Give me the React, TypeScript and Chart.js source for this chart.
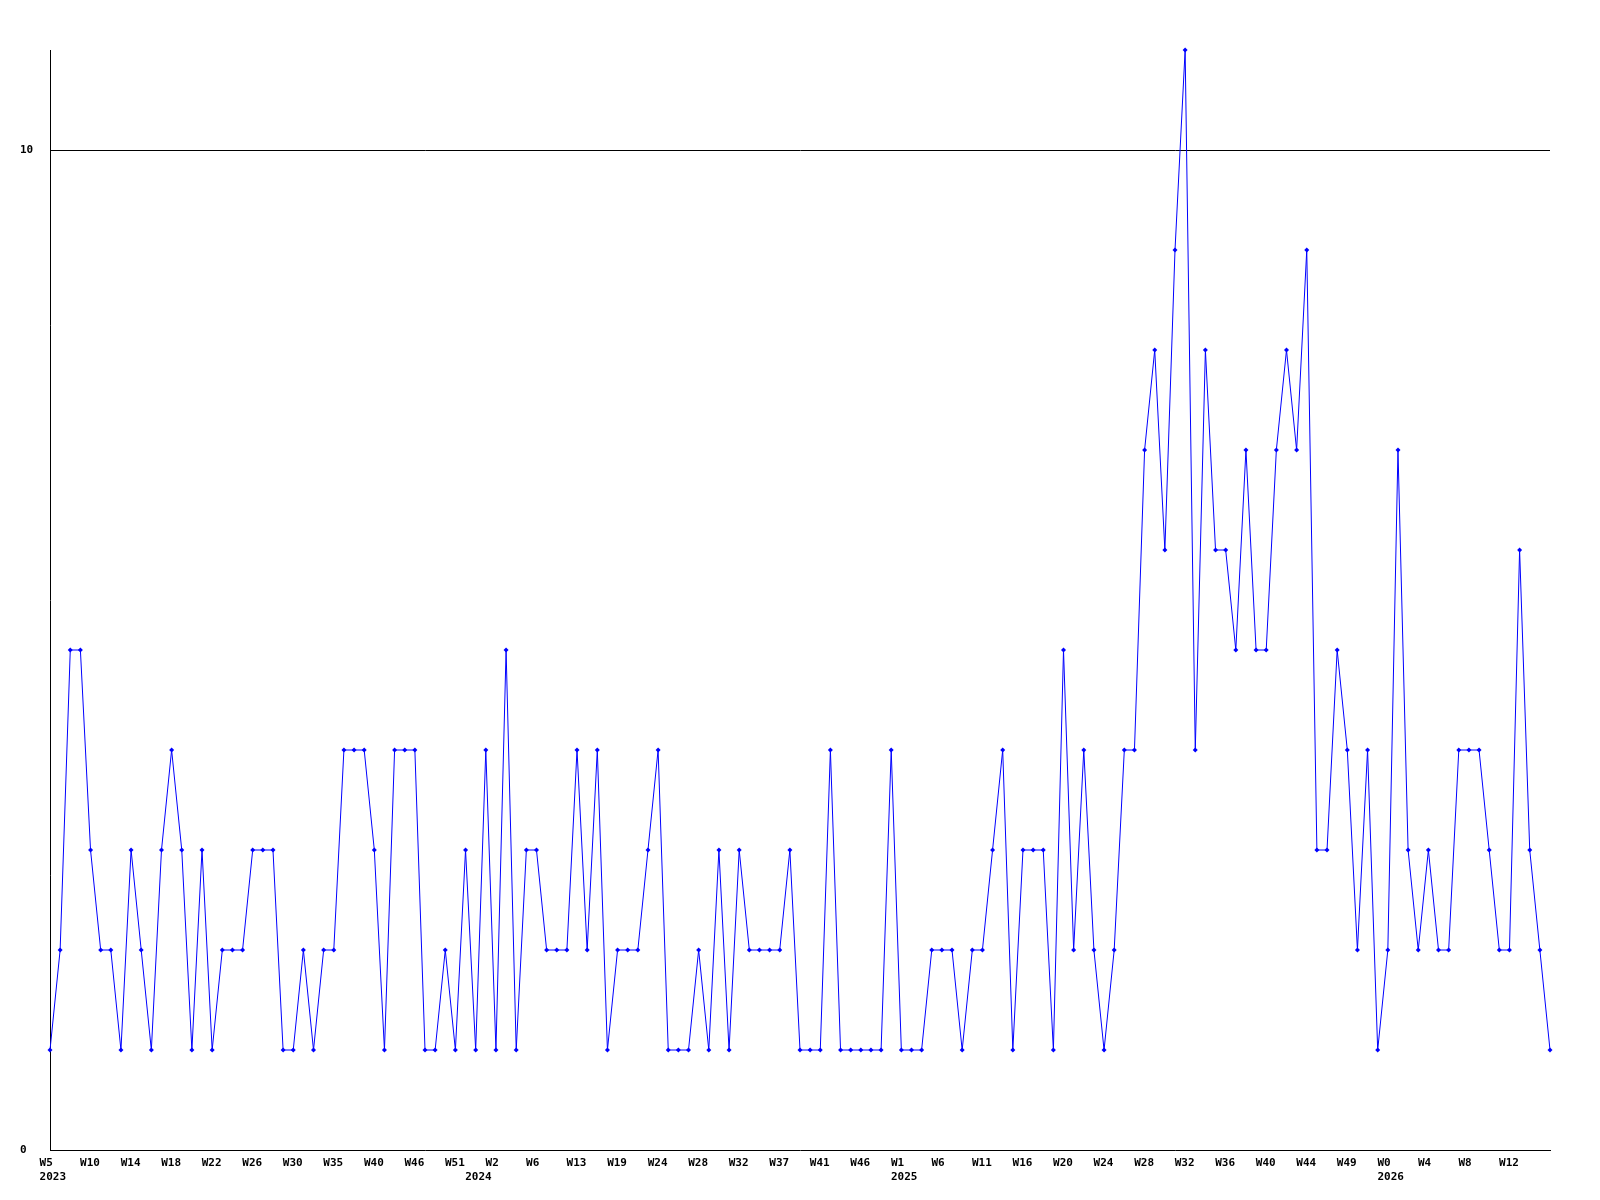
import React, { useEffect, useRef } from 'react';
import { Chart, registerables } from 'chart.js';

Chart.register(...registerables);

// Series values, one per point (149 points)
const values: number[] = [
  1, 2, 5, 5, 3, 2, 2, 1, 3, 2, 1, 3, 4, 3, 1, 3, 1, 2, 2, 2,
  3, 3, 3, 1, 1, 2, 1, 2, 2, 4, 4, 4, 3, 1, 4, 4, 4, 1, 1, 2,
  1, 3, 1, 4, 1, 5, 1, 3, 3, 2, 2, 2, 4, 2, 4, 1, 2, 2, 2, 3,
  4, 1, 1, 1, 2, 1, 3, 1, 3, 2, 2, 2, 2, 3, 1, 1, 1, 4, 1, 1,
  1, 1, 1, 4, 1, 1, 1, 2, 2, 2, 1, 2, 2, 3, 4, 1, 3, 3, 3, 1,
  5, 2, 4, 2, 1, 2, 4, 4, 7, 8, 6, 9, 11, 4, 8, 6, 6, 5, 7, 5,
  5, 7, 8, 7, 9, 3, 3, 5, 4, 2, 4, 1, 2, 7, 3, 2, 3, 2, 2, 4,
  4, 4, 3, 2, 2, 6, 3, 2, 1,
];

// Week tick labels, one every 4 points
const weekTickLabels: string[] = [
  'W5', 'W10', 'W14', 'W18', 'W22', 'W26', 'W30', 'W35', 'W40', 'W46', 'W51',
  'W2', 'W6', 'W13', 'W19', 'W24', 'W28', 'W32', 'W37', 'W41', 'W46',
  'W1', 'W6', 'W11', 'W16', 'W20', 'W24', 'W28', 'W32', 'W36', 'W40', 'W44', 'W49',
  'W0', 'W4', 'W8', 'W12',
];
const weekTickStep = 4;

// Year labels and the point index where each appears
const yearLabels: string[] = ['2023', '2024', '2025', '2026'];
const yearTickIndex: number[] = [0, 42, 84, 132];

// Y tick values shown
const yTickValues: number[] = [0, 10];
const yMax = 11;

const FONT = {
  family: '"DejaVu Sans Mono", "Liberation Mono", monospace',
  size: 11,
  weight: 'bold' as const,
  lineHeight: 1.3,
};
const LABEL_SHIFT = 1.03; // labels start slightly left of their tick

type TickDef = { value: number; lines: string[] };
const xTickDefs: TickDef[] = (() => {
  const m = new Map<number, string[]>();
  weekTickLabels.forEach((w, i) => m.set(i * weekTickStep, [w, '']));
  yearTickIndex.forEach((idx, i) => {
    const e = m.get(idx) || ['', ''];
    e[1] = yearLabels[i];
    m.set(idx, e);
  });
  return [...m.entries()]
    .sort((a, b) => a[0] - b[0])
    .map(([value, lines]) => ({ value, lines: lines[1] ? lines : [lines[0]] }));
})();

export default function App() {
  const canvasRef = useRef<HTMLCanvasElement | null>(null);

  useEffect(() => {
    const canvas = canvasRef.current;
    if (!canvas) return;
    const chart = new Chart(canvas, {
      type: 'line',
      data: {
        datasets: [
          {
            data: values.map((v, i) => ({ x: i, y: v })),
            borderColor: '#0000ff',
            backgroundColor: '#0000ff',
            borderWidth: 1,
            pointStyle: 'rectRot',
            pointRadius: 2.5,
            pointBorderWidth: 0,
            pointBackgroundColor: '#0000ff',
            tension: 0,
            clip: false as any,
          },
        ],
      },
      options: {
        animation: false,
        responsive: false,
        layout: { padding: { left: 20, top: 50, right: 50, bottom: 0 } },
        plugins: { legend: { display: false }, tooltip: { enabled: false } },
        scales: {
          x: {
            type: 'linear',
            min: 0,
            max: values.length - 1,
            grid: { display: false, drawTicks: false },
            border: { display: true, color: '#000', width: 1 },
            ticks: {
              autoSkip: false,
              maxRotation: 0,
              minRotation: 0,
              align: 'start',
              padding: 6,
              font: FONT,
              color: '#000',
              callback: (_v: any, i: number) => (xTickDefs[i] ? xTickDefs[i].lines : ''),
            },
            afterBuildTicks: (s: any) => {
              s.ticks = xTickDefs.map((d) => ({ value: d.value - LABEL_SHIFT }));
            },
            afterFit: (s: any) => {
              s.height = 50;
            },
          },
          y: {
            min: 0,
            max: yMax,
            grid: {
              color: (ctx: any) => (ctx.tick && ctx.tick.value === 10 ? '#000' : 'rgba(0,0,0,0)'),
              drawTicks: false,
              lineWidth: 1,
            },
            border: { display: true, color: '#000', width: 1 },
            ticks: {
              crossAlign: 'far',
              font: FONT,
              color: '#000',
              padding: 0,
              callback: (v: any) => String(v),
            },
            afterBuildTicks: (s: any) => {
              s.ticks = yTickValues.map((v) => ({ value: v }));
            },
            afterFit: (s: any) => {
              s.width = 30;
            },
          },
        },
      } as any,
    });
    return () => chart.destroy();
  }, []);

  return (
    <div style={{ position: 'absolute', left: 0, top: 0, width: 1600, height: 1200, background: '#fff' }}>
      <canvas ref={canvasRef} width={1600} height={1200} style={{ display: 'block' }} />
    </div>
  );
}
